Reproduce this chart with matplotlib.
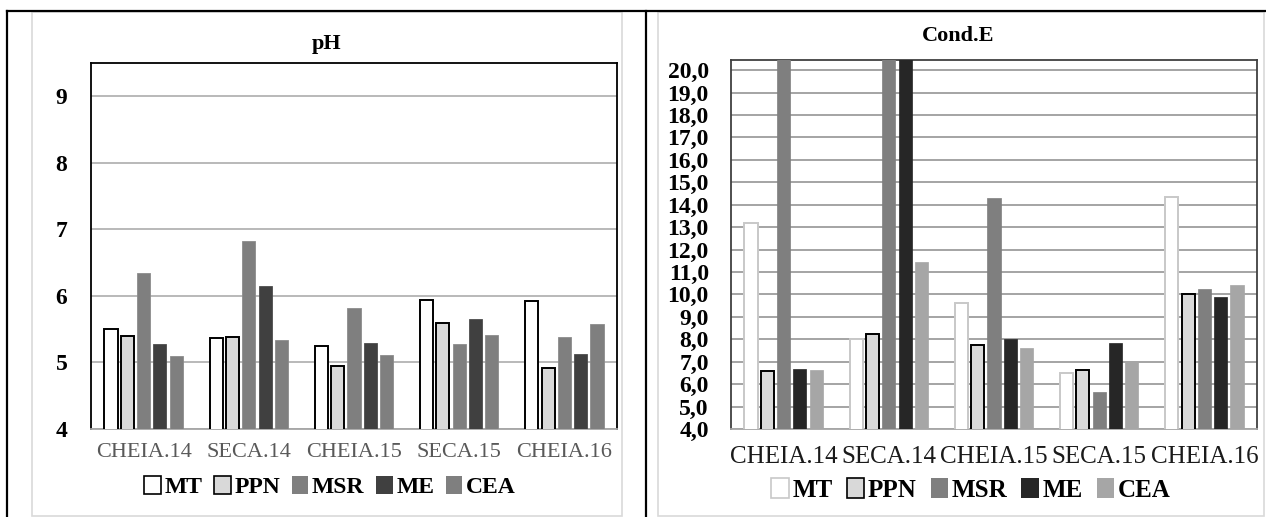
import matplotlib
import numpy as np

matplotlib.use("Agg")
import matplotlib.pyplot as plt
from matplotlib.lines import Line2D
from matplotlib.patches import Patch, Rectangle

plt.rcParams["font.family"] = ["Liberation Serif", "DejaVu Serif"]

CAMPAIGNS = ["CHEIA.14", "SECA.14", "CHEIA.15", "SECA.15", "CHEIA.16"]
SITES = ["MT", "PPN", "MSR", "ME", "CEA"]

# pH per site, one value per campaign
PH_MT = [5.50, 5.37, 5.25, 5.94, 5.92]
PH_PPN = [5.40, 5.38, 4.94, 5.59, 4.91]
PH_MSR = [6.35, 6.83, 5.82, 5.27, 5.38]
PH_ME = [5.27, 6.15, 5.29, 5.65, 5.13]
PH_CEA = [5.10, 5.33, 5.11, 5.42, 5.58]

# electrical conductivity (bars above 20.5 run off the chart in the source)
CE_MT = [13.2, 8.0, 9.6, 6.5, 14.35]
CE_PPN = [6.57, 8.25, 7.73, 6.63, 10.0]
CE_MSR = [24.0, 24.0, 14.3, 5.63, 10.25]
CE_ME = [6.67, 24.0, 8.0, 7.82, 9.9]
CE_CEA = [6.63, 11.46, 7.63, 7.01, 10.4]

PH_TICKS = [4, 5, 6, 7, 8, 9]
CE_TICKS = list(range(4, 21))

W, H = 1266, 517
STEP = 0.155
BAR_W = 0.124


def fx(px):
    return px / W


def fy(py):
    return 1 - py / H


def draw_bars(ax, series, faces, edges, lws):
    x = np.arange(len(CAMPAIGNS))
    for i, vals in enumerate(series):
        ax.bar(x + (i - 2) * STEP, vals, width=BAR_W, color=faces[i],
               edgecolor=edges[i], linewidth=lws[i], zorder=3)
    ax.set_xlim(-0.5, len(CAMPAIGNS) - 0.5)


fig = plt.figure(figsize=(W / 100, H / 100), dpi=100)

# outer table frame and chart panels
for coords in [((fx(7), 1), (fy(10.7), fy(10.7))),
               ((fx(7), fx(7)), (0, fy(10.7))),
               ((fx(646), fx(646)), (0, fy(10.7)))]:
    fig.add_artist(Line2D(coords[0], coords[1], color="black", lw=1.6))
fig.add_artist(Rectangle((fx(32), fy(516)), fx(590), 504 / H, fill=False,
                         edgecolor="#d9d9d9", lw=1.2))
fig.add_artist(Rectangle((fx(658), fy(516)), fx(606), 504 / H, fill=False,
                         edgecolor="#d9d9d9", lw=1.2))

# ---- pH ----
ax1 = fig.add_axes([fx(91), fy(429), fx(526), 366 / H])
ph_faces = ["white", "#d9d9d9", "#7f7f7f", "#404040", "#7f7f7f"]
ph_edges = ["black", "black", "#8c8c8c", "#4d4d4d", "#8c8c8c"]
draw_bars(ax1, [PH_MT, PH_PPN, PH_MSR, PH_ME, PH_CEA], ph_faces, ph_edges,
          [1.4, 1.4, 0.6, 0.6, 0.6])
ax1.set_ylim(4, 9.5)
ax1.set_yticks(PH_TICKS)
ax1.set_yticklabels([str(t) for t in PH_TICKS], fontsize=17, fontweight="bold")
ax1.set_xticks(np.arange(len(CAMPAIGNS)))
ax1.set_xticklabels(CAMPAIGNS, fontsize=16, color="#595959")
ax1.tick_params(axis="both", length=0)
ax1.tick_params(axis="y", pad=17)
ax1.tick_params(axis="x", pad=10)
ax1.grid(axis="y", color="#a6a6a6", lw=1.1, zorder=0)
for side in ["top", "left", "right"]:
    ax1.spines[side].set_color("black")
    ax1.spines[side].set_linewidth(1.3)
ax1.spines["bottom"].set_color("#a6a6a6")
ax1.spines["bottom"].set_linewidth(1.3)
fig.text(fx(327), fy(44), "pH", ha="center", va="center", fontsize=16,
         fontweight="bold")
ph_handles = [Patch(facecolor=f, edgecolor=e, lw=1.2 if e == "black" else 0)
              for f, e in zip(ph_faces, ph_edges)]
fig.legend(ph_handles, SITES, loc="center", bbox_to_anchor=(fx(330), fy(487)),
           ncol=5, frameon=False, handlelength=0.7, handleheight=0.8,
           handletextpad=0.15, columnspacing=0.5,
           prop={"size": 17, "weight": "bold"})

# ---- Cond.E ----
ax2 = fig.add_axes([fx(731), fy(429), fx(526), 369 / H])
ce_faces = ["white", "#d9d9d9", "#7f7f7f", "#262626", "#a6a6a6"]
ce_edges = ["#c8c8c8", "black", "#7f7f7f", "#262626", "#a6a6a6"]
draw_bars(ax2, [CE_MT, CE_PPN, CE_MSR, CE_ME, CE_CEA], ce_faces, ce_edges,
          [1.4, 1.4, 0.5, 0.5, 0.5])
ax2.set_ylim(4, 20.45)
ax2.set_yticks(CE_TICKS)
ax2.set_yticklabels([f"{t},0" for t in CE_TICKS], fontsize=17,
                    fontweight="bold")
ax2.set_xticks(np.arange(len(CAMPAIGNS)))
ax2.set_xticklabels(CAMPAIGNS, fontsize=18, color="#1a1a1a")
ax2.tick_params(axis="both", length=0)
ax2.tick_params(axis="y", pad=16)
ax2.tick_params(axis="x", pad=12)
ax2.grid(axis="y", color="#8c8c8c", lw=1.1, zorder=0)
for side in ["top", "left", "right"]:
    ax2.spines[side].set_color("#404040")
    ax2.spines[side].set_linewidth(1.3)
ax2.spines["bottom"].set_color("#a6a6a6")
ax2.spines["bottom"].set_linewidth(1.3)
fig.text(fx(958), fy(36), "Cond.E", ha="center", va="center", fontsize=16,
         fontweight="bold")
ce_handles = [Patch(facecolor=f, edgecolor=e, lw=1.2 if i < 2 else 0)
              for i, (f, e) in enumerate(zip(ce_faces, ce_edges))]
fig.legend(ce_handles, SITES, loc="center", bbox_to_anchor=(fx(971), fy(490)),
           ncol=5, frameon=False, handlelength=0.7, handleheight=0.8,
           handletextpad=0.15, columnspacing=0.55,
           prop={"size": 18, "weight": "bold"})

fig.savefig("out.png", dpi=100)
plt.close(fig)
